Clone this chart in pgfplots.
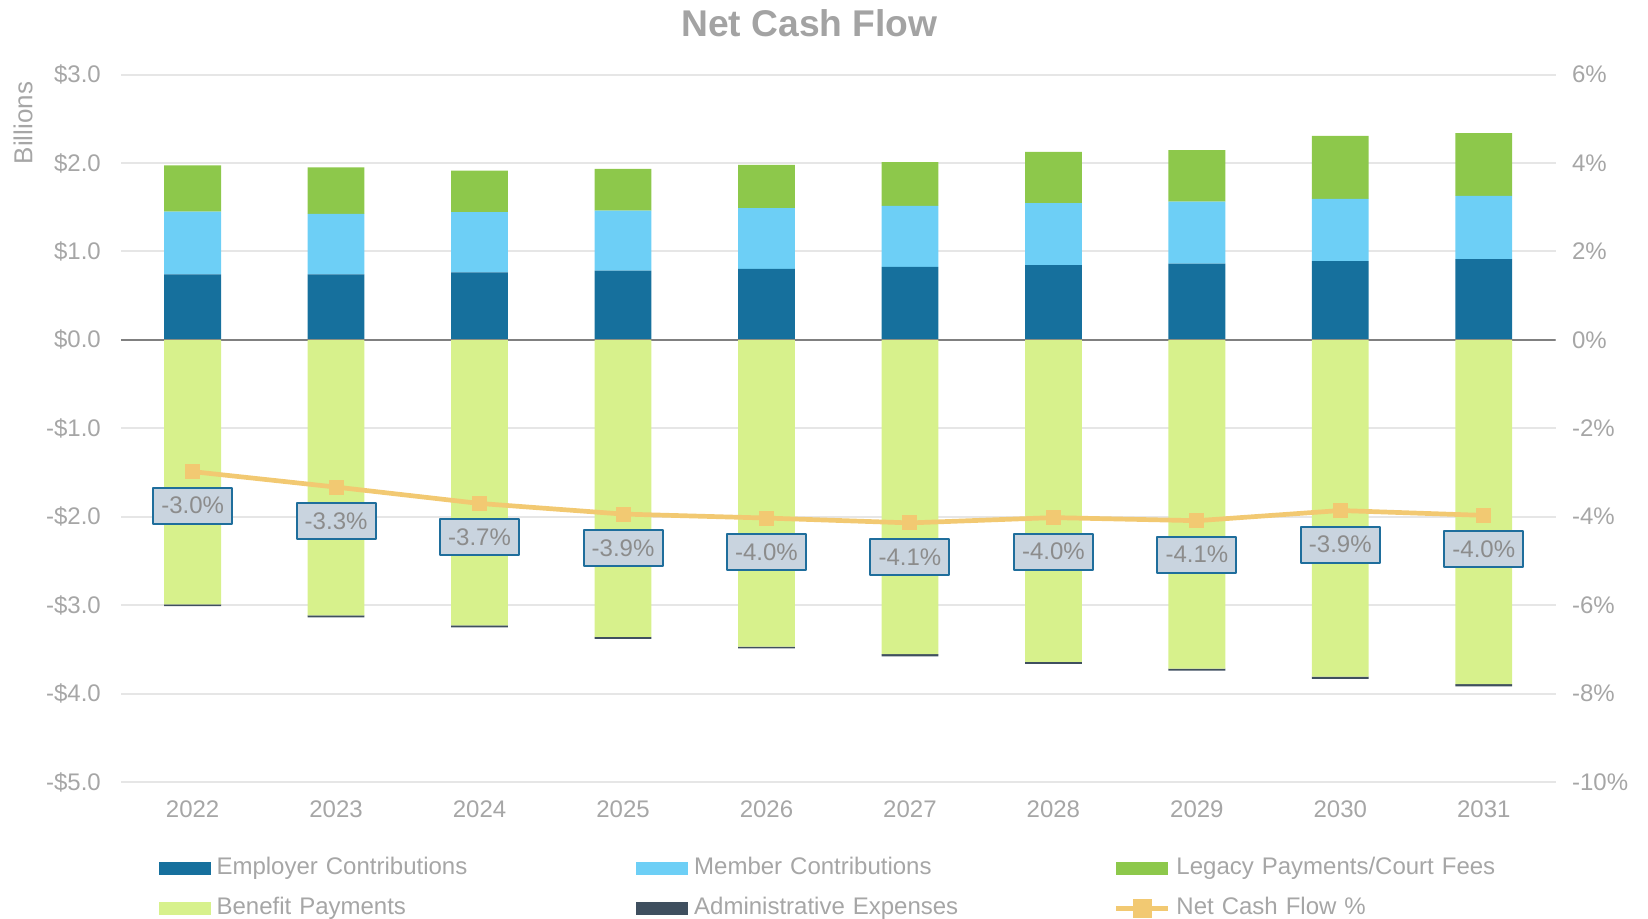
\documentclass[border=0pt]{standalone}
\usepackage{fontspec}
\setmainfont{Liberation Sans}
\usepackage{pgfplots}
\usepackage{pgfplotstable}
\pgfplotsset{compat=1.18}

\definecolor{empcol}{HTML}{16709D}
\definecolor{memcol}{HTML}{6DCFF6}
\definecolor{legcol}{HTML}{8DC84B}
\definecolor{bencol}{HTML}{D7F18C}
\definecolor{admcol}{HTML}{3F4F5F}
\definecolor{linecol}{HTML}{F2C972}
\definecolor{lblfill}{HTML}{C9D4DF}
\definecolor{lblborder}{HTML}{1F6E9C}
\definecolor{lbltext}{HTML}{8C8C8C}
\definecolor{tickgray}{HTML}{A6A6A6}
\definecolor{titlegray}{HTML}{A3A3A3}
\definecolor{gridgray}{HTML}{E6E6E6}
\definecolor{zerogray}{HTML}{808080}

\pgfplotstableread{
x emp mem leg ben adm pct lbl
0 0.740 0.709 0.525 -2.990 -0.020 -2.98 -3.0
1 0.740 0.686 0.525 -3.117 -0.020 -3.33 -3.3
2 0.762 0.683 0.468 -3.230 -0.022 -3.70 -3.7
3 0.784 0.678 0.472 -3.360 -0.022 -3.94 -3.9
4 0.803 0.686 0.490 -3.468 -0.022 -4.03 -4.0
5 0.825 0.690 0.494 -3.555 -0.024 -4.14 -4.1
6 0.844 0.701 0.581 -3.641 -0.024 -4.02 -4.0
7 0.861 0.703 0.583 -3.717 -0.024 -4.09 -4.1
8 0.891 0.703 0.714 -3.808 -0.025 -3.86 -3.9
9 0.914 0.714 0.710 -3.894 -0.025 -3.97 -4.0
}\datatable

\pgfplotsset{
  mypatch/.style={legend image code/.code={\fill[##1] (0pt,-3.15pt) rectangle (26pt,3.15pt);}},
  mylinelegend/.style={legend image code/.code={%
      \draw[##1] (0pt,0pt) -- (26pt,0pt);
      \fill[linecol] (9.5pt,-3.5pt) rectangle (16.5pt,3.5pt);}},
  base/.style={
    width=717.3pt, height=353.7pt, scale only axis,
    at={(60.45pt,68.5pt)}, anchor=south west,
    xmin=-0.5, xmax=9.5,
    axis line style={draw=none}, tick style={draw=none},
    ticklabel style={font=\fontsize{12}{14}\selectfont, text=tickgray},
  },
}

\begin{document}
\begin{tikzpicture}
\path[use as bounding box] (0,0) rectangle (824pt,459.5pt);

% positive bars + grid + left axis + legend
\begin{axis}[base,
  ymin=-5, ymax=3,
  ybar stacked, bar width=28.4pt,
  ymajorgrids, grid style={color=gridgray, line width=1pt},
  xtick={0,...,9},
  xticklabels={2022,2023,2024,2025,2026,2027,2028,2029,2030,2031},
  xticklabel style={yshift=-5.7pt},
  ytick={-5,-4,-3,-2,-1,0,1,2,3},
  yticklabels={-\$5.0,-\$4.0,-\$3.0,-\$2.0,-\$1.0,\$0.0,\$1.0,\$2.0,\$3.0},
  yticklabel style={xshift=-6.5pt},
  legend columns=3,
  legend cell align=left,
  legend style={draw=none, fill=none, inner sep=0pt, outer sep=0pt,
    at={(0.0264,-0.1049)}, anchor=north west,
    font=\fontsize{12}{14}\selectfont, text=tickgray,
    nodes={inner xsep=2.9pt, inner ysep=0pt, text height=9pt, text depth=3pt, text width=205pt, align=left},
    row sep=8pt,
    /tikz/every odd column/.append style={column sep=0pt},
    /tikz/every even column/.append style={column sep=2pt}},
]
\addplot[mypatch, fill=empcol, draw=none] table[x=x, y=emp] {\datatable};
\addlegendentry{Employer Contributions}
\addplot[mypatch, fill=memcol, draw=none] table[x=x, y=mem] {\datatable};
\addlegendentry{Member Contributions}
\addplot[mypatch, fill=legcol, draw=none] table[x=x, y=leg] {\datatable};
\addlegendentry{Legacy Payments/Court Fees}
\addlegendimage{mypatch, fill=bencol, draw=none}
\addlegendentry{Benefit Payments}
\addlegendimage{mypatch, fill=admcol, draw=none}
\addlegendentry{Administrative Expenses}
\addlegendimage{mylinelegend, draw=linecol, line width=2.35pt}
\addlegendentry{Net Cash Flow \%}
\end{axis}

% negative bars + zero line
\begin{axis}[base,
  ymin=-5, ymax=3,
  ybar stacked, bar width=28.4pt,
  hide axis,
]
\addplot[fill=bencol, draw=none] table[x=x, y=ben] {\datatable};
\addplot[fill=admcol, draw=none] table[x=x, y=adm] {\datatable};
\draw[color=zerogray, line width=1pt] (axis cs:-0.5,0) -- (axis cs:9.5,0);
\end{axis}

% line on right axis
\begin{axis}[base,
  ymin=-10, ymax=6,
  xtick=\empty,
  ytick={-10,-8,-6,-4,-2,0,2,4,6},
  yticklabels={-10\%,-8\%,-6\%,-4\%,-2\%,0\%,2\%,4\%,6\%},
  yticklabel pos=right,
  yticklabel style={xshift=4.75pt},
  clip=false,
]
\addplot[color=linecol, line width=2.35pt, line join=round, mark=square*, mark size=3.5pt,
  mark options={solid, fill=linecol, line width=0pt},
  point meta=explicit symbolic,
  nodes near coords={\pgfplotspointmeta\%},
  every node near coord/.append style={anchor=north, yshift=-7.5pt,
    fill=lblfill, draw=lblborder, line width=1pt, text=lbltext,
    font=\fontsize{12}{14}\selectfont, minimum width=39.5pt, minimum height=18pt,
    inner sep=1pt},
] table[x=x, y=pct, meta=lbl] {\datatable};
\end{axis}

\node[font=\bfseries\fontsize{18.6}{22}\selectfont, text=titlegray] at (404.7pt,448pt) {Net Cash Flow};
\node[font=\fontsize{13}{15}\selectfont, text=tickgray, rotate=90] at (11.6pt,398pt) {Billions};
\end{tikzpicture}
\end{document}
